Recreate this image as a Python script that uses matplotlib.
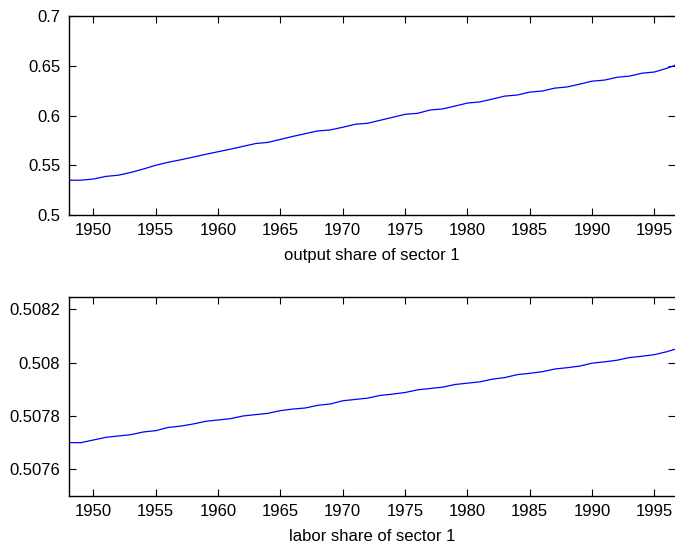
import matplotlib
matplotlib.use("Agg")
import matplotlib.pyplot as plt
import numpy as np

plt.rcParams['font.family'] = ['Liberation Sans', 'DejaVu Sans']

years = list(range(1948, 1998))

# output share of sector 1
output_share = [
    0.5349, 0.5350, 0.5362, 0.5388, 0.5400, 0.5428, 0.5462, 0.5500, 0.5530, 0.5555,
    0.5582, 0.5610, 0.5636, 0.5662, 0.5690, 0.5718, 0.5730, 0.5760, 0.5790, 0.5818,
    0.5845, 0.5855, 0.5882, 0.5912, 0.5922, 0.5952, 0.5982, 0.6012, 0.6022, 0.6055,
    0.6066, 0.6095, 0.6125, 0.6137, 0.6165, 0.6195, 0.6206, 0.6235, 0.6246, 0.6275,
    0.6287, 0.6315, 0.6345, 0.6356, 0.6384, 0.6396, 0.6425, 0.6437, 0.6475, 0.6520,
]

# labor share of sector 1
labor_share = [
    0.507700, 0.507700, 0.507710, 0.507720, 0.507725, 0.507730, 0.507740, 0.507745,
    0.507757, 0.507762, 0.507770, 0.507780, 0.507785, 0.507790, 0.507800, 0.507805,
    0.507810, 0.507820, 0.507826, 0.507830, 0.507840, 0.507845, 0.507857, 0.507862,
    0.507867, 0.507877, 0.507882, 0.507888, 0.507898, 0.507903, 0.507908, 0.507918,
    0.507923, 0.507928, 0.507938, 0.507944, 0.507955, 0.507960, 0.507966, 0.507976,
    0.507981, 0.507987, 0.507998, 0.508003, 0.508009, 0.508019, 0.508024, 0.508030,
    0.508041, 0.508055,
]

xticks = [1950, 1955, 1960, 1965, 1970, 1975, 1980, 1985, 1990, 1995]
top_yticks = [0.5, 0.55, 0.6, 0.65, 0.7]
top_ylabels = ['0.5', '0.55', '0.6', '0.65', '0.7']
bot_yticks = [0.5076, 0.5078, 0.5080, 0.5082]
bot_ylabels = ['0.5076', '0.5078', '0.508', '0.5082']


def style_axes(ax):
    ax.tick_params(direction='in', length=5, width=0.8, top=True, right=True,
                   labelsize=12, pad=6, colors='black')
    for s in ax.spines.values():
        s.set_linewidth(1.0)
    ax.spines['right'].set_visible(False)


fig = plt.figure(figsize=(6.75, 5.46), dpi=100)
ax1 = fig.add_axes([0.1015, 0.6062, 0.8985, 0.3645])
ax2 = fig.add_axes([0.1015, 0.0916, 0.8985, 0.3644])

ax1.plot(years, output_share, color='blue', linewidth=0.9)
ax1.set_xlim(1948, 1996.65)
ax1.set_ylim(0.5, 0.7)
ax1.set_xticks(xticks)
ax1.set_yticks(top_yticks)
ax1.set_yticklabels(top_ylabels)
ax1.set_xlabel('output share of sector 1', fontsize=12, labelpad=7)
style_axes(ax1)

ax2.plot(years, labor_share, color='blue', linewidth=0.9)
ax2.set_xlim(1948, 1996.65)
ax2.set_ylim(0.5075, 0.508246)
ax2.set_xticks(xticks)
ax2.set_yticks(bot_yticks)
ax2.set_yticklabels(bot_ylabels)
ax2.set_xlabel('labor share of sector 1', fontsize=12, labelpad=7)
style_axes(ax2)

fig.savefig('out.png', dpi=100)
